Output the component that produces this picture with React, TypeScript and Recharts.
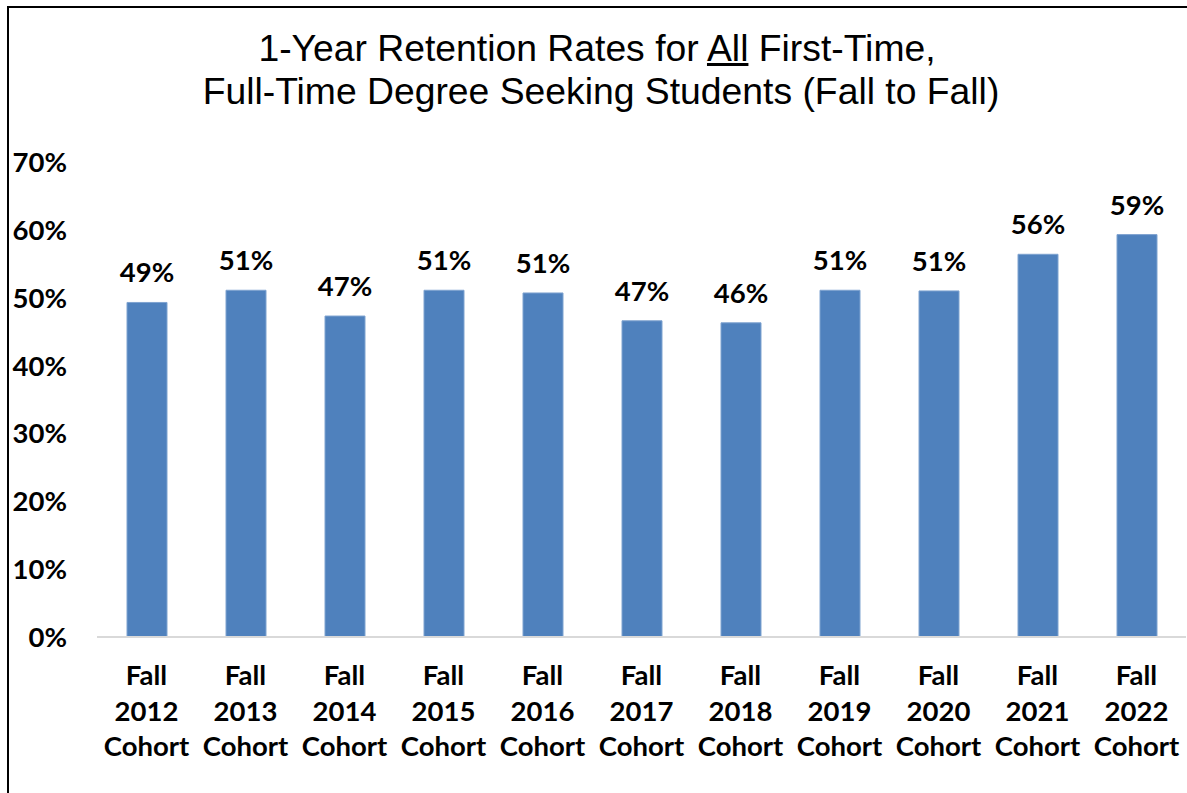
import { BarChart, Bar, XAxis, YAxis, LabelList } from 'recharts'

// cohort labels and 1-year retention (percent)
const cohorts = ['2012', '2013', '2014', '2015', '2016', '2017', '2018', '2019', '2020', '2021', '2022']
const retention = [49.3, 51.1, 47.3, 51.1, 50.7, 46.6, 46.3, 51.1, 51.0, 56.4, 59.3]
const yTicks = [0, 10, 20, 30, 40, 50, 60, 70]

const data = cohorts.map((year, i) => ({ year, value: retention[i] }))

const LABEL_FONT = 'Lato, "Open Sans", sans-serif'

const YTick = (props: any) => {
  const { x, y, payload } = props
  return (
    <text x={x} y={y} dy={10} textAnchor="end" fontFamily={LABEL_FONT} fontWeight={700} fontSize={27.5} fill="#000">
      {payload.value}%
    </text>
  )
}

const XTick = (props: any) => {
  const { x, y, payload } = props
  return (
    <text x={x} y={y} textAnchor="middle" fontFamily={LABEL_FONT} fontWeight={700} fontSize={27.5} fill="#000">
      <tspan x={x} dy={48}>Fall</tspan>
      <tspan x={x} dy={35.5}>{payload.value}</tspan>
      <tspan x={x} dy={35.5}>Cohort</tspan>
    </text>
  )
}

export default function App() {
  return (
    <div style={{ position: 'absolute', left: 0, top: 0, width: 1187, height: 793, background: '#fff', overflow: 'hidden' }}>
      {/* frame, only top and left edges show in the crop */}
      <div style={{ position: 'absolute', left: 7, top: 6, width: 1200, height: 800, borderLeft: '2px solid #000', borderTop: '2px solid #000' }} />
      <div
        style={{
          position: 'absolute',
          left: 0,
          top: 27,
          width: 1202,
          textAlign: 'center',
          fontFamily: '"Liberation Sans", Arial, sans-serif',
          fontSize: 37.3,
          lineHeight: '43px',
          color: '#000',
        }}
      >
        <div style={{ marginLeft: -8 }}>1-Year Retention Rates for <u>All</u> First-Time,</div>
        <div>Full-Time Degree Seeking Students (Fall to Fall)</div>
      </div>
      <div style={{ position: 'absolute', left: 0, top: 0 }}>
        <BarChart width={1187} height={793} data={data} margin={{ top: 162, right: 1, bottom: 126, left: 0 }} barSize={40}>
          <XAxis
            dataKey="year"
            height={30}
            axisLine={{ stroke: '#d9d9d9', strokeWidth: 2 }}
            tickLine={false}
            tickSize={0}
            tickMargin={0}
            interval={0}
            tick={<XTick />}
          />
          <YAxis
            width={97}
            domain={[0, 70]}
            ticks={yTicks}
            axisLine={false}
            tickLine={false}
            tickSize={0}
            tickMargin={30}
            tick={<YTick />}
          />
          <Bar dataKey="value" fill="#4f81bd" stroke="#7fa3d0" strokeWidth={1} isAnimationActive={false}>
            <LabelList
              dataKey="value"
              position="top"
              offset={20}
              formatter={(v: any) => `${Math.round(v)}%`}
              fontFamily={LABEL_FONT}
              fontWeight={700}
              fontSize={27.5}
              fill="#000"
            />
          </Bar>
        </BarChart>
      </div>
    </div>
  )
}
